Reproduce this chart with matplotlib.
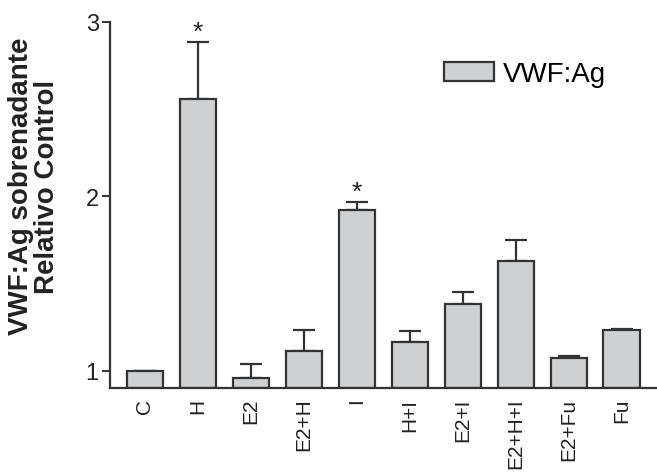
import matplotlib
matplotlib.use("Agg")
import matplotlib.pyplot as plt
import numpy as np

plt.rcParams['font.family'] = ['Liberation Sans', 'DejaVu Sans']

categories = ["C", "H", "E2", "E2+H", "I", "H+I", "E2+I", "E2+H+I", "E2+Fu", "Fu"]
values = [1.00, 2.56, 0.96, 1.11, 1.92, 1.165, 1.38, 1.63, 1.07, 1.232]
errors = [0.0, 0.325, 0.08, 0.12, 0.045, 0.062, 0.072, 0.12, 0.013, 0.008]
significant = ["H", "I"]
series_name = "VWF:Ag"
y_ticks = [1, 2, 3]

fig = plt.figure(figsize=(6.57, 4.77), dpi=100)
ax = fig.add_axes([0.1674, 0.1845, 0.8326, 0.7673])

x = np.arange(len(categories))
bottom = 0.9
face = "#cfd0d2"
edge = "#333333"
heights = [v - bottom for v in values]
bars = ax.bar(x, heights, bottom=bottom, width=0.68, color=face, edgecolor=edge,
              linewidth=1.6, label=series_name, zorder=2)
ax.errorbar(x, values, yerr=[np.zeros(len(errors)), errors], fmt='none',
            ecolor=edge, elinewidth=1.6, capsize=8, capthick=1.6, zorder=1)

for i, c in enumerate(categories):
    if c in significant:
        ax.text(x[i], values[i] + errors[i] - 0.01, "*", ha='center', va='bottom',
                fontsize=19, color="#222222")

ax.set_xlim(-0.655, 9.67)
ax.set_ylim(0.9, 3.0)
ax.set_yticks(y_ticks)
ax.set_yticklabels([str(t) for t in y_ticks], fontsize=17, color="#222222")
ax.set_xticks(x)
ax.set_xticklabels(categories, rotation=90, fontsize=15, color="#222222")
ax.tick_params(axis='x', length=0, pad=7)
ax.tick_params(axis='y', length=6, width=1.4, color=edge, pad=2)
for s in ["top", "right"]:
    ax.spines[s].set_visible(False)
for s in ["left", "bottom"]:
    ax.spines[s].set_linewidth(1.6)
    ax.spines[s].set_color(edge)

fig.text(0.052, 0.609, "VWF:Ag sobrenadante\nRelativo Control", rotation=90,
         ha='center', va='center', multialignment='center', fontsize=20,
         fontweight='bold', color="#222222", linespacing=1.0)

leg = ax.legend(loc='center left', bbox_to_anchor=(0.676, 0.842), bbox_transform=fig.transFigure,
                frameon=False, fontsize=20, handlelength=1.8, handleheight=0.65,
                handletextpad=0.32, borderpad=0, borderaxespad=0)

fig.savefig("out.png", dpi=100)
